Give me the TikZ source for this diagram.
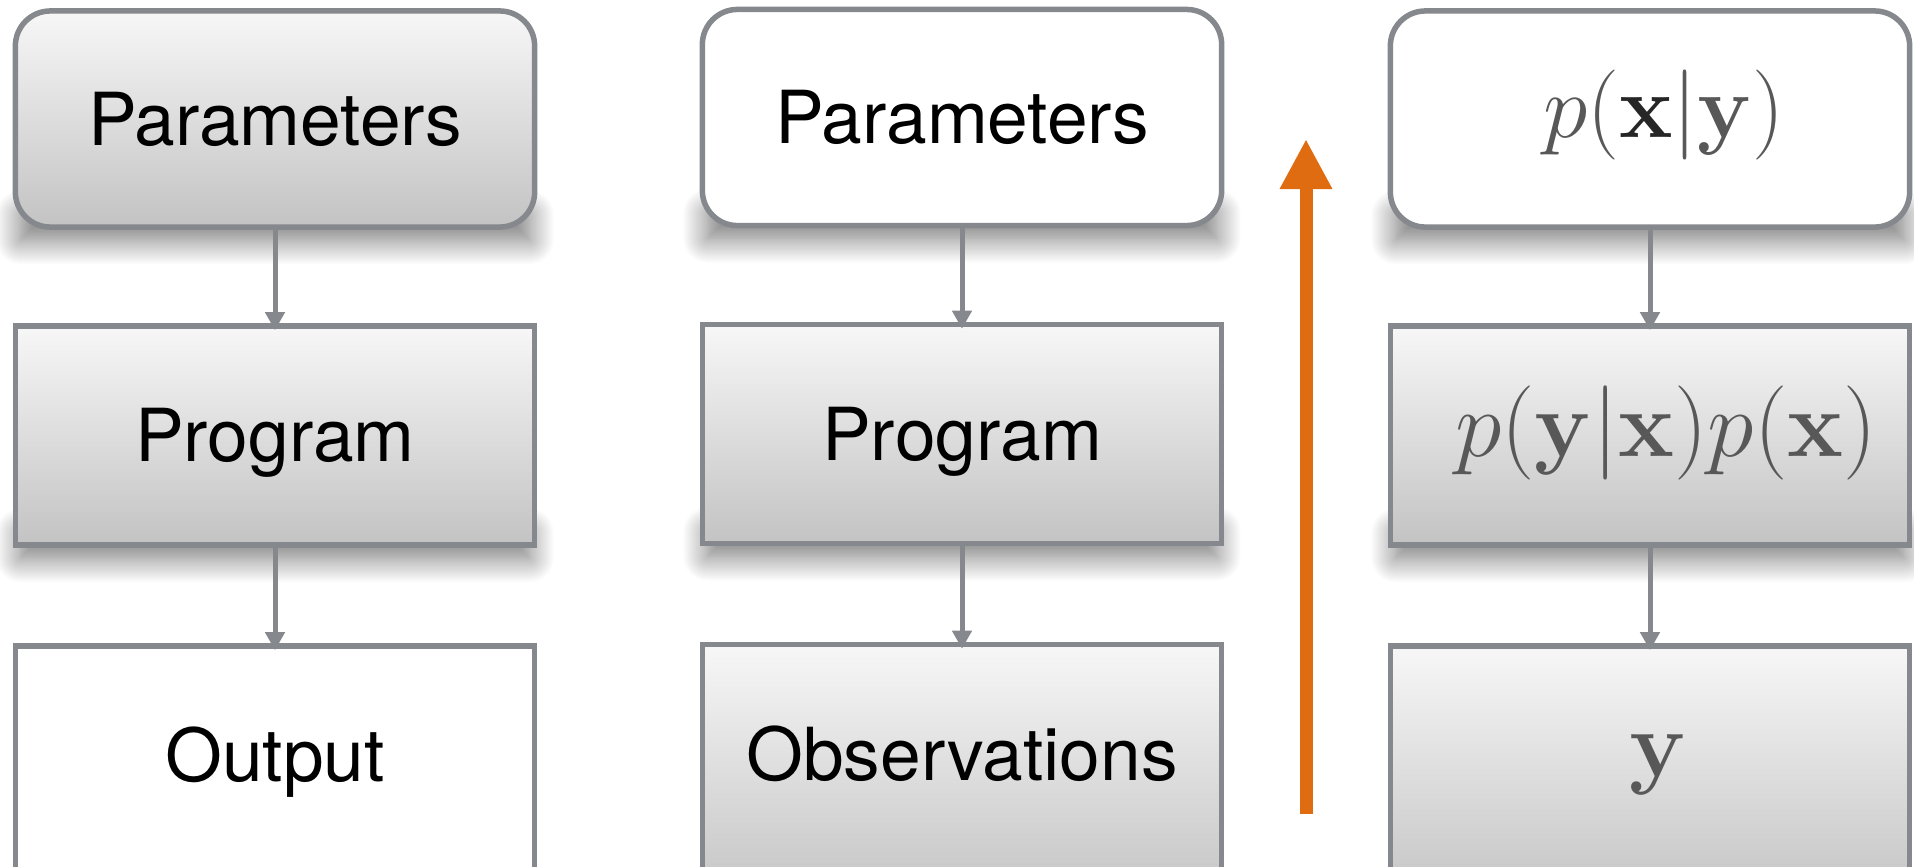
\documentclass[tikz,border=0pt]{standalone}
\usepackage{graphicx}
\usepackage[no-math]{fontspec}
\setmainfont{TeX Gyre Heros}
\usetikzlibrary{arrows.meta,shadows.blur,backgrounds}
\definecolor{edge}{RGB}{133,136,140}
\definecolor{shTop}{RGB}{247,247,247}
\definecolor{shBot}{RGB}{195,195,195}
\definecolor{mathgray}{RGB}{88,88,88}
\definecolor{mathdark}{RGB}{38,38,38}
\definecolor{orangeArrow}{RGB}{224,108,18}
\begin{document}
\begin{tikzpicture}[x=0.01cm,y=-0.01cm,
  box/.style={draw=edge, line width=0.055cm, minimum width=5.19cm, inner sep=0pt,
    font=\fontsize{20.8}{25}\selectfont, text height=14.9pt, text depth=0pt},
  lbl/.style={inner sep=0pt, font=\fontsize{20.8}{25}\selectfont, text height=14.9pt, text depth=0pt},
  grad/.style={top color=shTop, bottom color=shBot},
  plain/.style={fill=white},
  rbox/.style={rounded corners=0.35cm, minimum height=2.16cm},
  sbox/.style={minimum height=2.19cm},
  mtext/.style={inner sep=0pt, text=mathgray, text depth=0pt, font=\fontsize{24.88}{30}\selectfont},
  shadowband/.style={blur shadow={shadow xshift=0cm, shadow yshift=0cm, shadow blur radius=0.25cm, shadow blur steps=30, shadow opacity=55, shadow scale=1}},
  conn/.style={draw=edge, line width=0.05cm, -{Triangle[width=0.19cm,length=0.18cm]}, shorten >=-0.07cm},
  bigarrow/.style={draw=orangeArrow, line width=0.13cm, -{Triangle[width=0.49cm,length=0.5cm]}}
]
\useasboundingbox (0,0) rectangle (1914,866);
\clip (0,0) rectangle (1914,866);
% column 1
\node[box, rbox, grad] (a1) at (275,119) {Parameters};
\node[box, sbox, grad] (a2) at (275,435.5) {Program};
\node[box, sbox, plain, minimum height=2.6cm] (a3) at (275,776) {};
\node[lbl] (a3t) at (275,755.5) {Output};
% column 2
\node[box, rbox, plain] (b1) at (962,117.5) {Parameters};
\node[box, sbox, grad] (b2) at (962,434) {Program};
\node[box, sbox, grad, minimum height=2.6cm] (b3) at (962,774.5) {};
\node[lbl] (b3t) at (962,754) {Observations};
% column 3
\node[box, rbox, plain] (c1) at (1650,119) {};
\node[mtext, text height=12.8pt] (c1t) at (1664,115) {\scalebox{1.029}{$p(\textcolor{mathdark}{\mathbf{x}}|\mathbf{y})$}};
\node[box, sbox, grad] (c2) at (1650,435.5) {};
\node[mtext, text height=13.4pt] (c2t) at (1666,433) {\scalebox{1.077}{$p(\mathbf{y}|\mathbf{x})p(\mathbf{x})$}};
\node[box, sbox, grad, minimum height=2.6cm] (c3) at (1650,776) {};
\node[mtext, text height=13.4pt] (c3t) at (1658,753) {\scalebox{1.077}{$\mathbf{y}$}};
% shadows under the boxes
\begin{scope}[on background layer]
\foreach \n in {a1,a2,b1,b2,c1,c2}{
  \path[shadowband] ([shift={(8,-15)}]\n.south west) rectangle ([shift={(-8,10)}]\n.south east);
}
\end{scope}
% connectors
\draw[conn] (a1.south) -- (a2.north);
\draw[conn] (a2.south) -- (a3.north);
\draw[conn] (b1.south) -- (b2.north);
\draw[conn] (b2.south) -- (b3.north);
\draw[conn] (c1.south) -- (c2.north);
\draw[conn] (c2.south) -- (c3.north);
% orange arrow
\coordinate (oa) at (1306,814);
\coordinate (ob) at (1306,139);
\draw[bigarrow] (oa) -- (ob);
\end{tikzpicture}
\end{document}
